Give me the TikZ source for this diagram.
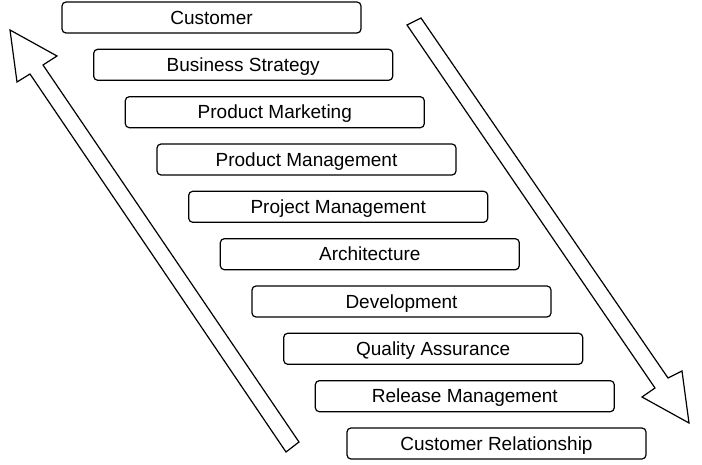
\documentclass[tikz,border=0pt]{standalone}
\usepackage{fontspec}
\setmainfont{Liberation Sans}
\begin{document}
\begin{tikzpicture}[x=1pt,y=-1pt,
  layer/.style={draw, line width=1.2pt, rounded corners=4pt, minimum width=299pt, minimum height=31pt, inner sep=0pt, text height=13.5pt, text depth=0pt, font=\fontsize{19}{23}\selectfont},
  bigarrow/.style={draw, line width=1.2pt, line join=miter, fill=white}]
\useasboundingbox (0,0) rectangle (702,465);
\node[layer] (b0) at (211.5,17.5) {Customer};
\node[layer] (b1) at (243.2,64.8) {Business Strategy};
\node[layer] (b2) at (274.8,112.2) {Product Marketing};
\node[layer] (b3) at (306.5,159.5) {Product Management};
\node[layer] (b4) at (338.2,206.8) {Project Management};
\node[layer] (b5) at (369.8,254.2) {Architecture};
\node[layer] (b6) at (401.5,301.5) {Development};
\node[layer] (b7) at (433.2,348.8) {Quality Assurance};
\node[layer] (b8) at (464.8,396.2) {Release Management};
\node[layer] (b9) at (496.5,443.5) {Customer Relationship};
% upward arrow (left)
\draw[bigarrow] (10,30) -- (57,56) -- (43,65) -- (299,442) -- (286,452) -- (30,74) -- (17,82) -- cycle;
% downward arrow (right)
\draw[bigarrow] (689,423) -- (682,371) -- (668,378) -- (421,18) -- (407,25) -- (655,388) -- (642,397) -- cycle;
\end{tikzpicture}
\end{document}
